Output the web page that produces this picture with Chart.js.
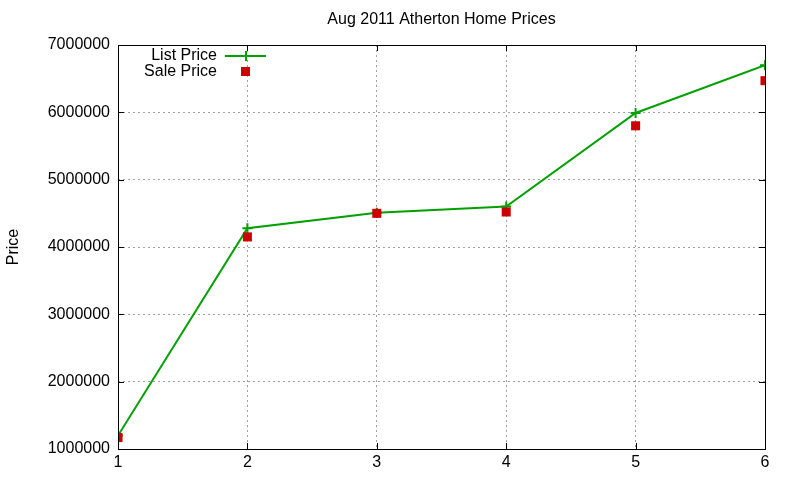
<!DOCTYPE html>
<html>
<head>
<meta charset="utf-8">
<script src="https://cdn.jsdelivr.net/npm/chart.js@4"></script>
<style>
  html, body { margin: 0; padding: 0; background: #fff; }
  #wrap { width: 800px; height: 480px; }
</style>
</head>
<body>
<div id="wrap"><canvas id="chart" width="800" height="480"></canvas></div>
<script>
const houses = [1, 2, 3, 4, 5, 6];
const listPrice = [1200000, 4280000, 4510000, 4600000, 5990000, 6700000];
const salePrice = [1170000, 4150000, 4500000, 4520000, 5800000, 6470000];
const yTicks = [1000000, 2000000, 3000000, 4000000, 5000000, 6000000, 7000000];

const FONT = '"Liberation Sans", Arial, sans-serif';
const GREEN = '#00a000';
const RED = '#cc0000';

// gnuplot-like frame, inward ticks, title and key
const frame = {
  id: 'frame',
  afterDraw(chart) {
    const { ctx, chartArea: a, scales } = chart;
    ctx.save();
    ctx.strokeStyle = '#000';
    ctx.lineWidth = 1;
    ctx.strokeRect(a.left + 0.5, a.top + 0.5, a.right - a.left, a.bottom - a.top);
    ctx.beginPath();
    houses.forEach(v => {
      const x = Math.round(scales.x.getPixelForValue(v)) + 0.5;
      ctx.moveTo(x, a.bottom); ctx.lineTo(x, a.bottom - 6);
      ctx.moveTo(x, a.top); ctx.lineTo(x, a.top + 6);
    });
    yTicks.forEach(v => {
      const y = Math.round(scales.y.getPixelForValue(v)) + 0.5;
      ctx.moveTo(a.left, y); ctx.lineTo(a.left + 6, y);
      ctx.moveTo(a.right, y); ctx.lineTo(a.right - 6, y);
    });
    ctx.stroke();

    ctx.fillStyle = '#000';
    ctx.font = '16px ' + FONT;
    ctx.textAlign = 'center';
    ctx.textBaseline = 'middle';
    ctx.fillText('Aug 2011 Atherton Home Prices', (a.left + a.right) / 2, 20);

    // key
    ctx.textAlign = 'right';
    ctx.fillText('List Price', 217, 56);
    ctx.fillText('Sale Price', 217, 72);
    ctx.strokeStyle = GREEN;
    ctx.lineWidth = 2;
    ctx.beginPath();
    ctx.moveTo(225, 56); ctx.lineTo(266, 56);
    ctx.moveTo(246, 51); ctx.lineTo(246, 61);
    ctx.stroke();
    ctx.fillStyle = RED;
    ctx.fillRect(241, 67, 9, 9);
    ctx.restore();
  }
};

new Chart(document.getElementById('chart'), {
  type: 'line',
  data: {
    datasets: [{
      label: 'Sale Price',
      data: houses.map((h, i) => ({ x: h, y: salePrice[i] })),
      showLine: false,
      borderColor: RED,
      backgroundColor: RED,
      pointStyle: 'rect',
      pointRadius: 6.4,
      pointBorderWidth: 0,
      order: 0
    }, {
      label: 'List Price',
      data: houses.map((h, i) => ({ x: h, y: listPrice[i] })),
      borderColor: GREEN,
      backgroundColor: GREEN,
      borderWidth: 2,
      pointStyle: 'cross',
      pointRadius: 5,
      pointBorderWidth: 2,
      tension: 0,
      order: 1
    }]
  },
  options: {
    responsive: false,
    animation: false,
    layout: { padding: { top: 45, right: 35, left: 4, bottom: 0 } },
    plugins: {
      legend: { display: false },
      title: { display: false },
      tooltip: { enabled: false }
    },
    scales: {
      x: {
        type: 'linear',
        min: 1, max: 6,
        afterFit(s) { s.height = 31; },
        afterBuildTicks(s) { s.ticks = houses.map(v => ({ value: v })); },
        grid: { color: '#a0a0a0', drawTicks: false, tickLength: 0 },
        border: { display: false, dash: [2, 3] },
        ticks: { color: '#000', font: { family: FONT, size: 16 }, padding: 4 }
      },
      y: {
        min: 1000000, max: 7000000,
        afterFit(s) { s.width = 114; },
        afterBuildTicks(s) { s.ticks = yTicks.map(v => ({ value: v })); },
        grid: { color: '#a0a0a0', drawTicks: false, tickLength: 0 },
        border: { display: false, dash: [2, 3] },
        title: { display: true, text: 'Price', color: '#000', font: { family: FONT, size: 16 }, padding: 0 },
        ticks: { color: '#000', font: { family: FONT, size: 16 }, padding: 8, callback: v => String(v) }
      }
    }
  },
  plugins: [frame]
});
</script>
</body>
</html>
